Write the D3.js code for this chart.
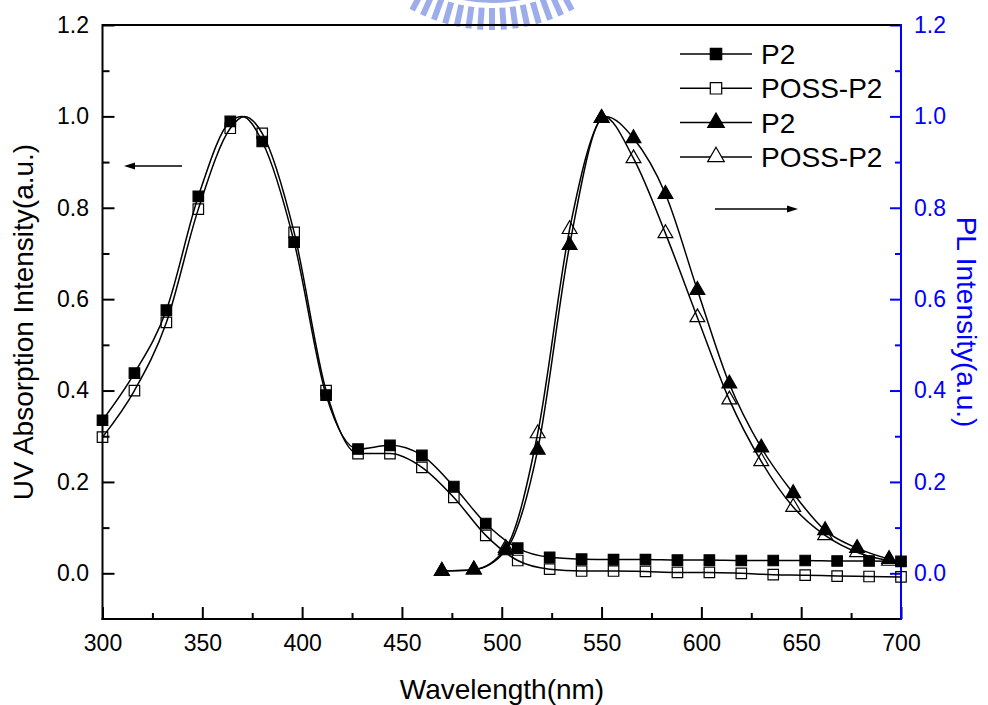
<!DOCTYPE html>
<html>
<head>
<meta charset="utf-8">
<script src="https://cdn.jsdelivr.net/npm/d3@7"></script>
<style>
body { margin:0; background:#fff; }
text { font-family: Arial, "Liberation Sans", sans-serif; }
</style>
</head>
<body>
<script>
// UV absorption, markers every 16 nm
var uvWave = [300,316,332,348,364,380,396,412,428,444,460,476,492,508,524,540,556,572,588,604,620,636,652,668,684,700];
var uvP2   = [0.335,0.438,0.576,0.825,0.989,0.945,0.725,0.39,0.272,0.28,0.258,0.19,0.109,0.055,0.035,0.031,0.030,0.030,0.029,0.029,0.028,0.028,0.028,0.027,0.027,0.026];
var uvPoss = [0.298,0.40,0.549,0.797,0.974,0.963,0.746,0.40,0.262,0.262,0.232,0.166,0.083,0.028,0.009,0.005,0.005,0.004,0.002,0.002,0.0,-0.003,-0.004,-0.006,-0.007,-0.008];
// peak points
var uvP2Extra   = [[370,1.0]];
var uvPossExtra = [[371,1.0]];

// PL emission
var plWave = [470,486,502,518,534,550,566,582,598,614,630,646,662,678,694];
var plP2   = [0.005,0.008,0.05,0.27,0.718,0.996,0.952,0.83,0.62,0.415,0.275,0.175,0.094,0.055,0.031];
var plPoss = [0.005,0.008,0.055,0.306,0.753,0.996,0.908,0.744,0.56,0.38,0.245,0.145,0.083,0.046,0.027];
var plP2Extra   = [[552,1.0],[700,0.024]];
var plPossExtra = [[551,1.0],[700,0.021]];

var xTicks = [300,350,400,450,500,550,600,650,700];
var xMinor = [325,375,425,475,525,575,625,675];
var yTicks = [0,0.2,0.4,0.6,0.8,1.0,1.2];
var yMinor = [0.1,0.3,0.5,0.7,0.9,1.1];

var legendLabels = ['P2','POSS-P2','P2','POSS-P2'];
var legendShapes = ['square','square','triangle','triangle'];
var legendFilled = [true,false,true,false];

var width = 988, height = 705;
var svg = d3.select('body').append('svg').attr('width',width).attr('height',height);

var x = d3.scaleLinear().domain([300,700]).range([102.5,901]);
var y = d3.scaleLinear().domain([-0.1,1.2]).range([619,25]);

// faint watermark emblem at the top
var wm = svg.append('g').attr('fill','#8d9fe6').attr('opacity',0.85);
d3.range(-28,29,4).forEach(function(a){
  wm.append('rect').attr('x',-3).attr('y',148).attr('width',6).attr('height',22)
    .attr('transform','translate(492,-140) rotate(' + (-a) + ')');
});
wm.append('path').attr('transform','translate(492,-140)')
  .attr('d', d3.arc()({innerRadius:126, outerRadius:143, startAngle:Math.PI-0.4, endAngle:Math.PI+0.4}));

// axes
function clean(g){ g.select('.domain').remove(); }

svg.append('g').attr('transform','translate(0,619)')
  .call(d3.axisBottom(x).tickValues(xMinor).tickFormat('').tickSizeInner(-6).tickSizeOuter(0)).call(clean);
var gx = svg.append('g').attr('transform','translate(0,619)')
  .call(d3.axisBottom(x).tickValues(xTicks).tickFormat(d3.format('d')).tickSizeInner(-12).tickSizeOuter(0).tickPadding(16)).call(clean);

svg.append('g').attr('transform','translate(102.5,0)')
  .call(d3.axisLeft(y).tickValues(yMinor).tickFormat('').tickSizeInner(-7).tickSizeOuter(0)).call(clean);
var gy = svg.append('g').attr('transform','translate(102.5,0)')
  .call(d3.axisLeft(y).tickValues(yTicks).tickFormat(d3.format('.1f')).tickSizeInner(-12).tickSizeOuter(0).tickPadding(13.5)).call(clean);

var gr1 = svg.append('g').attr('transform','translate(901,0)')
  .call(d3.axisRight(y).tickValues(yMinor).tickFormat('').tickSizeInner(-6).tickSizeOuter(0)).call(clean);
var gr = svg.append('g').attr('transform','translate(901,0)')
  .call(d3.axisRight(y).tickValues(yTicks).tickFormat(d3.format('.1f')).tickSizeInner(-11).tickSizeOuter(0).tickPadding(13)).call(clean);

svg.selectAll('.tick line').attr('stroke-width',2);
svg.selectAll('.tick text').style('font-size','23px').attr('fill','#000');
gr.selectAll('.tick text').attr('fill','#0000ff');
gr.selectAll('.tick line').attr('stroke','#0000ff');
gr1.selectAll('.tick line').attr('stroke','#0000ff');

// frame
svg.append('line').attr('x1',102.5).attr('x2',901).attr('y1',25).attr('y2',25).attr('stroke','#000').attr('stroke-width',2);
svg.append('line').attr('x1',102.5).attr('x2',102.5).attr('y1',24).attr('y2',620).attr('stroke','#000').attr('stroke-width',2);
svg.append('line').attr('x1',101.5).attr('x2',901).attr('y1',619).attr('y2',619).attr('stroke','#000').attr('stroke-width',2);
svg.append('line').attr('x1',901).attr('x2',901).attr('y1',24).attr('y2',620).attr('stroke','#0000ff').attr('stroke-width',2);

// titles
svg.append('text').attr('x',502).attr('y',699).attr('text-anchor','middle').style('font-size','28px').text('Wavelength(nm)');
svg.append('text').attr('transform','translate(33,322) rotate(-90)').attr('text-anchor','middle').style('font-size','28px').text('UV Absorption Intensity(a.u.)');
svg.append('text').attr('transform','translate(957,322) rotate(90)').attr('text-anchor','middle').style('font-size','28px').attr('fill','#0000ff').text('PL Intensity(a.u.)');

// curves
var line = d3.line().x(function(d){ return x(d[0]); }).y(function(d){ return y(d[1]); }).curve(d3.curveMonotoneX);
function pts(w, v){ return w.map(function(d,i){ return [d, v[i]]; }); }
function merged(w, v, extra){ return pts(w, v).concat(extra).sort(function(a,b){ return a[0]-b[0]; }); }

var series = [
  {data: pts(uvWave, uvPoss), line: merged(uvWave, uvPoss, uvPossExtra), shape: d3.symbolSquare, size: 110, filled: false},
  {data: pts(uvWave, uvP2),   line: merged(uvWave, uvP2, uvP2Extra),     shape: d3.symbolSquare, size: 110, filled: true},
  {data: pts(plWave, plPoss), line: merged(plWave, plPoss, plPossExtra), shape: d3.symbolTriangle, size: 95, filled: false},
  {data: pts(plWave, plP2),   line: merged(plWave, plP2, plP2Extra),     shape: d3.symbolTriangle, size: 95, filled: true}
];

series.forEach(function(s){
  svg.append('path').attr('d', line(s.line)).attr('fill','none').attr('stroke','#000').attr('stroke-width',1.5);
});
series.forEach(function(s){
  svg.append('g').selectAll('path').data(s.data).enter().append('path')
    .attr('transform', function(d){ return 'translate(' + x(d[0]) + ',' + y(d[1]) + ')'; })
    .attr('d', d3.symbol().type(s.shape).size(s.size))
    .attr('fill', s.filled ? '#000' : 'none')
    .attr('stroke','#000').attr('stroke-width',1.2);
});

// arrows pointing to each axis
function arrow(x1, x2, yy){
  var dir = x2 > x1 ? 1 : -1;
  svg.append('line').attr('x1',x1).attr('x2',x2 - dir*8).attr('y1',yy).attr('y2',yy).attr('stroke','#000').attr('stroke-width',1.5);
  svg.append('path').attr('d','M' + x2 + ',' + yy + 'l' + (-dir*11) + ',-3.5l0,7z').attr('fill','#000');
}
arrow(182, 124, 166);
arrow(715, 798, 209);

// legend
var leg = svg.append('g');
legendLabels.forEach(function(lbl, i){
  var ry = 54 + i*34.3;
  leg.append('line').attr('x1',680).attr('x2',752).attr('y1',ry).attr('y2',ry).attr('stroke','#000').attr('stroke-width',1.5);
  leg.append('path').attr('transform','translate(716,' + ry + ')')
    .attr('d', d3.symbol().type(legendShapes[i] == 'square' ? d3.symbolSquare : d3.symbolTriangle).size(legendShapes[i] == 'square' ? 130 : 120))
    .attr('fill', legendFilled[i] ? '#000' : '#fff').attr('stroke','#000').attr('stroke-width',1.2);
  leg.append('text').attr('x',761).attr('y',ry + 10).style('font-size','28px').text(lbl);
});
</script>
</body>
</html>
